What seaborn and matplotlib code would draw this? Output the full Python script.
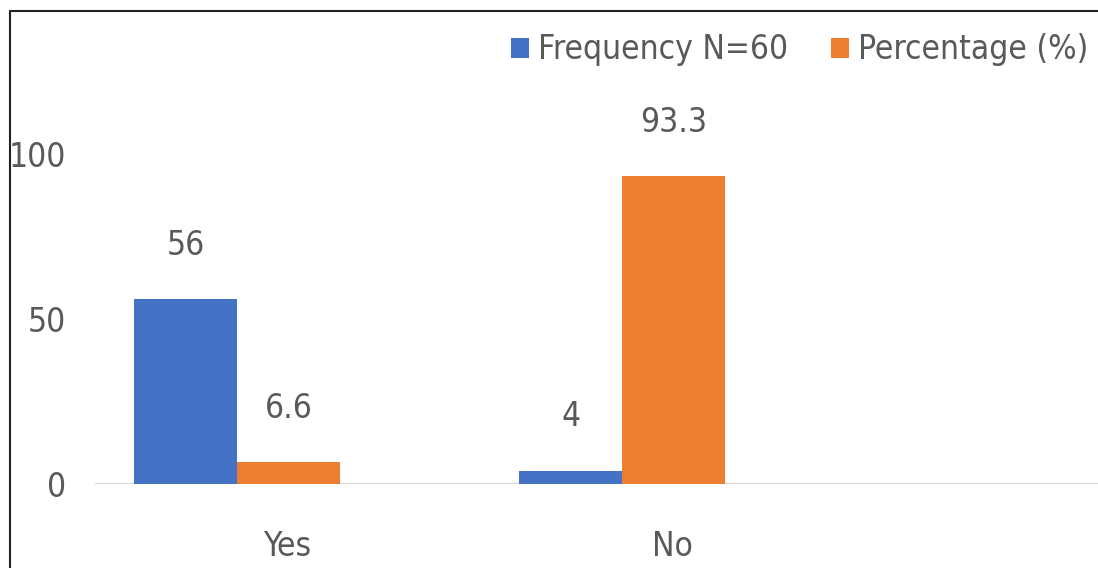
import pandas as pd
import matplotlib
matplotlib.use("Agg")
import matplotlib.pyplot as plt
import matplotlib.transforms as mtransforms
from matplotlib.lines import Line2D
import seaborn as sns

# Data
categories = ["Yes", "No"]
frequency = [56, 4]
percentage = [6.6, 93.3]
series_names = ["Frequency N=60", "Percentage (%)"]
colors = ["#4472C4", "#ED7D31"]
yticks = [0, 50, 100]

df = pd.DataFrame({
    "category": categories * 2,
    "series": [series_names[0]] * 2 + [series_names[1]] * 2,
    "value": frequency + percentage,
})

sns.set_style("white")
plt.rcParams["font.family"] = ["DejaVu Sans"]
plt.rcParams["font.stretch"] = "condensed"
text_color = "#595959"
fs = 24

W, H = 1098, 568
fig = plt.figure(figsize=(W / 100, H / 100), dpi=100)
ax = fig.add_axes([95 / W, (H - 484) / H, 1 - 95 / W, (484 - 11) / H])

sns.barplot(data=df, x="category", y="value", hue="series", palette=colors,
            width=0.535, gap=0, saturation=1, linewidth=0, ax=ax)

ax.set_ylim(0, 143.3)
ax.set_xlim(-0.369, 2.236)
ax.set_yticks(yticks)
ax.set_xlabel("")
ax.set_ylabel("")
for s in ax.spines.values():
    s.set_visible(False)
ax.axhline(0, color="#d9d9d9", lw=2.5, zorder=0)
ax.tick_params(axis="both", length=0, labelsize=fs, labelcolor=text_color)
ax.tick_params(axis="y", pad=21)
ax.tick_params(axis="x", pad=33)

# x labels sit a bit right of the group centres
offset = mtransforms.ScaledTranslation(50 / 100, 0, fig.dpi_scale_trans)
for lbl in ax.get_xticklabels():
    lbl.set_transform(lbl.get_transform() + offset)

for cont in ax.containers:
    ax.bar_label(cont, labels=[f"{v:g}" for v in cont.datavalues],
                 padding=27, fontsize=fs, color=text_color)

ax.legend(loc="center right", bbox_to_anchor=(1088 / W, 1 - 50 / H),
          bbox_transform=fig.transFigure, ncol=2, frameon=False,
          fontsize=fs, labelcolor=text_color, handlelength=0.55,
          handleheight=0.55, handletextpad=0.25, columnspacing=1.3,
          borderpad=0, borderaxespad=0)

# border at top and left (image is cropped)
fig.add_artist(Line2D([10 / W, 1], [1 - 11 / H, 1 - 11 / H], color="#222222", lw=1.5))
fig.add_artist(Line2D([10 / W, 10 / W], [0, 1 - 11 / H], color="#222222", lw=1.5))

fig.savefig("out.png", dpi=100)
